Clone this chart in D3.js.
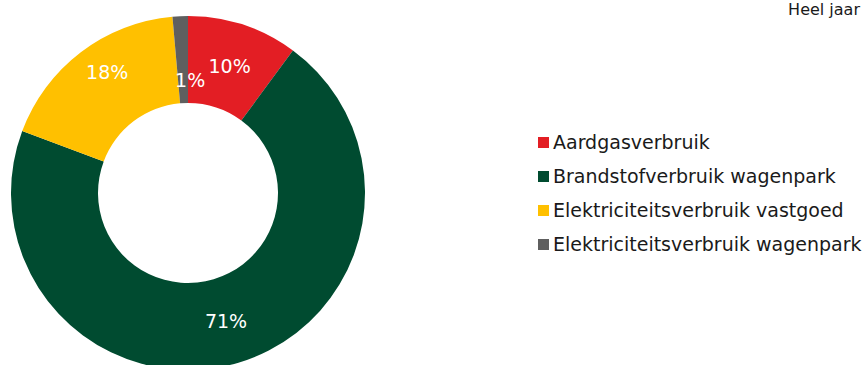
<!DOCTYPE html>
<html>
<head>
<meta charset="utf-8">
<script src="https://cdn.jsdelivr.net/npm/d3@7"></script>
<style>
  body { margin: 0; background: #fff; }
  text { font-family: "DejaVu Sans", Verdana, sans-serif; }
</style>
</head>
<body>
<script>
// Gegevens
var categorieen = ["Aardgasverbruik", "Brandstofverbruik wagenpark",
  "Elektriciteitsverbruik vastgoed", "Elektriciteitsverbruik wagenpark"];
var waarden = [10.1, 70.6, 17.9, 1.4];
var labels = ["10%", "71%", "18%", "1%"];
var kleuren = ["#e31e24", "#004b30", "#ffc000", "#5f5f5f"];
var titel = "Heel jaar";

var width = 863, height = 365;
var cx = 188, cy = 193, rOut = 177, rIn = 90;
// kleine verschuiving van de labels zoals in het origineel
var labelShift = [[0, 0], [0, 0], [0, -14], [8, 21]];

var svg = d3.select("body").append("svg")
  .attr("width", width)
  .attr("height", height);

var pie = d3.pie().sort(null).value(function (d) { return d; });
var arc = d3.arc().innerRadius(rIn).outerRadius(rOut);
var arcs = pie(waarden);

var g = svg.append("g").attr("transform", `translate(${cx},${cy})`);

g.selectAll("path")
  .data(arcs)
  .enter()
  .append("path")
  .attr("d", arc)
  .attr("fill", function (d, i) { return kleuren[i]; });

g.selectAll("text.lbl")
  .data(arcs)
  .enter()
  .append("text")
  .attr("class", "lbl")
  .attr("x", function (d, i) { return arc.centroid(d)[0] + labelShift[i][0]; })
  .attr("y", function (d, i) { return arc.centroid(d)[1] + labelShift[i][1]; })
  .attr("dy", "0.35em")
  .attr("text-anchor", "middle")
  .attr("fill", "#fff")
  .attr("font-size", 19)
  .text(function (d, i) { return labels[i]; });

// Legenda
var legend = svg.append("g").attr("transform", "translate(538,142)");
var rij = legend.selectAll("g")
  .data(categorieen)
  .enter()
  .append("g")
  .attr("transform", function (d, i) { return `translate(0,${i * 34})`; });

rij.append("rect")
  .attr("x", 0)
  .attr("y", -5)
  .attr("width", 11)
  .attr("height", 11)
  .attr("fill", function (d, i) { return kleuren[i]; });

rij.append("text")
  .attr("x", 15)
  .attr("y", 6.5)
  .attr("font-size", 19)
  .attr("fill", "#1a1a1a")
  .text(function (d) { return d; });

// Titel rechtsboven
svg.append("text")
  .attr("x", 860)
  .attr("y", 15)
  .attr("text-anchor", "end")
  .attr("font-size", 16)
  .attr("fill", "#1a1a1a")
  .text(titel);
</script>
</body>
</html>
